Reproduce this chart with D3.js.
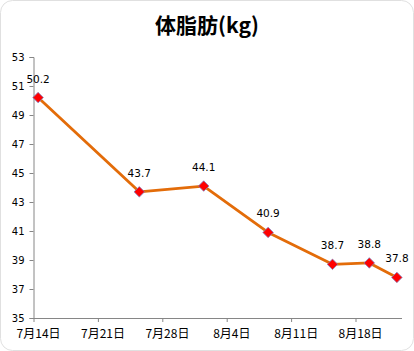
<!DOCTYPE html>
<html>
<head>
<meta charset="utf-8">
<script src="https://cdn.jsdelivr.net/npm/d3@7/dist/d3.min.js"></script>
<style>
  body { margin: 0; background: #fff; }
  svg text { font-family: "DejaVu Sans", Verdana, sans-serif; }
</style>
</head>
<body>
<svg width="414" height="351"></svg>
<script>
const dates = ["2013-07-14", "2013-07-25", "2013-08-01", "2013-08-08", "2013-08-15", "2013-08-19", "2013-08-22"];
const values = [50.2, 43.7, 44.1, 40.9, 38.7, 38.8, 37.8];
const yTicks = [35, 37, 39, 41, 43, 45, 47, 49, 51, 53];
const xTicks = ["2013-07-14", "2013-07-21", "2013-07-28", "2013-08-04", "2013-08-11", "2013-08-18"];

const svg = d3.select('svg');
const parse = d3.timeParse("%Y-%m-%d");
const fmt = d => (d.getMonth() + 1) + "月" + d.getDate() + "日";

// chart frame
svg.append('rect')
  .attr('x', 0.5).attr('y', 0.5)
  .attr('width', 413).attr('height', 350)
  .attr('rx', 12)
  .attr('fill', '#fff')
  .attr('stroke', '#e0e0e0');

svg.append('text')
  .attr('x', 207).attr('y', 33)
  .attr('text-anchor', 'middle')
  .style('font-family', '"Noto Sans CJK SC", sans-serif')
  .style('font-weight', 'bold')
  .style('font-size', '21px')
  .text('体脂肪(kg)');

const x = d3.scaleTime()
  .domain([parse("2013-07-14"), parse("2013-08-23")])
  .range([33.5, 401.5]);
const y = d3.scaleLinear().domain([35, 53]).range([318, 57]);

const halfDay = d => d3.timeHour.offset(d, 12);
const data = dates.map((d, i) => ({ date: halfDay(parse(d)), v: values[i] }));

// y axis
const yAxisG = svg.append('g')
  .attr('transform', 'translate(33.5,0)')
  .call(d3.axisLeft(y).tickValues(yTicks).tickSize(4).tickPadding(5).tickFormat(d3.format('d')));
yAxisG.select('.domain').attr('stroke', '#868686');
yAxisG.selectAll('.tick line').attr('stroke', '#868686');
yAxisG.selectAll('text').style('font-size', '10px').attr('fill', '#000');

// x axis
const xAxisG = svg.append('g')
  .attr('transform', 'translate(0,318)')
  .call(d3.axisBottom(x).tickValues(xTicks.map(parse)).tickSize(4).tickSizeOuter(0).tickFormat(fmt));
xAxisG.select('.domain').attr('stroke', '#868686');
xAxisG.selectAll('.tick line').attr('stroke', '#868686');
xAxisG.selectAll('text')
  .attr('x', 4.6).attr('y', 11)
  .style('font-size', '12px')
  .style('font-family', '"Noto Sans CJK SC", "DejaVu Sans", sans-serif')
  .attr('fill', '#000');

const line = d3.line().x(d => x(d.date)).y(d => y(d.v));

svg.append('path')
  .datum(data)
  .attr('d', line)
  .attr('fill', 'none')
  .attr('stroke', '#e36c09')
  .attr('stroke-width', 2.8)
  .attr('stroke-linejoin', 'round');

svg.selectAll('.pt')
  .data(data)
  .enter()
  .append('path')
  .attr('class', 'pt')
  .attr('d', d3.symbol().type(d3.symbolDiamond2).size(70))
  .attr('transform', d => 'translate(' + x(d.date) + ',' + y(d.v) + ')')
  .attr('fill', '#ff0000')
  .attr('stroke', '#7f7fbf')
  .attr('stroke-width', 0.8);

svg.selectAll('.lbl')
  .data(data)
  .enter()
  .append('text')
  .attr('class', 'lbl')
  .attr('x', d => x(d.date))
  .attr('y', d => y(d.v) - 15)
  .attr('text-anchor', 'middle')
  .style('font-size', '10.5px')
  .text(d => d.v.toFixed(1));
</script>
</body>
</html>
